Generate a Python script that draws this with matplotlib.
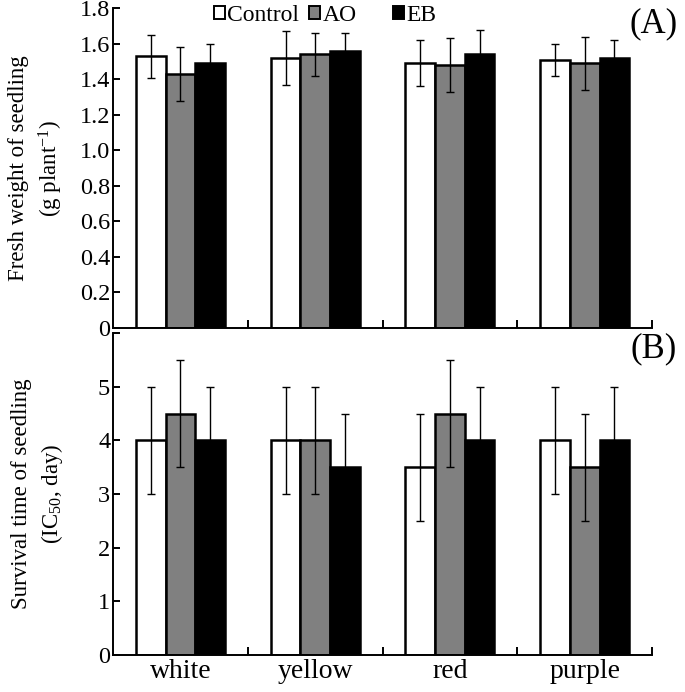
import matplotlib
matplotlib.use('Agg')
import matplotlib.pyplot as plt
import numpy as np
from matplotlib.patches import Patch

plt.rcParams['font.family'] = ['Liberation Serif', 'DejaVu Serif']
plt.rcParams['mathtext.fontset'] = 'custom'
plt.rcParams['mathtext.rm'] = 'Liberation Serif'
plt.rcParams['mathtext.it'] = 'Liberation Serif:italic'

categories = ['white', 'yellow', 'red', 'purple']
treatments = ['Control', 'AO', 'EB']
colors = ['white', '#808080', 'black']

# (A) fresh weight, g plant-1
weight = {
    'Control': [1.53, 1.52, 1.49, 1.51],
    'AO': [1.43, 1.54, 1.48, 1.49],
    'EB': [1.49, 1.56, 1.54, 1.52],
}
weight_err = {
    'Control': [0.12, 0.15, 0.13, 0.09],
    'AO': [0.15, 0.12, 0.15, 0.15],
    'EB': [0.11, 0.10, 0.14, 0.10],
}

# (B) survival time, IC50 day
survival = {
    'Control': [4.0, 4.0, 3.5, 4.0],
    'AO': [4.5, 4.0, 4.5, 3.5],
    'EB': [4.0, 3.5, 4.0, 4.0],
}
survival_err = {
    'Control': [1.0, 1.0, 1.0, 1.0],
    'AO': [1.0, 1.0, 1.0, 1.0],
    'EB': [1.0, 1.0, 1.0, 1.0],
}

fig = plt.figure(figsize=(6.85, 6.92), dpi=100)
ax1 = fig.add_axes([0.165, 0.526, 0.787, 0.462])
ax2 = fig.add_axes([0.165, 0.0535, 0.787, 0.465])

x = np.arange(len(categories))
width = 0.22


def draw_panel(ax, values, errors):
    for i, t in enumerate(treatments):
        ax.bar(x + (i - 1) * width, values[t], width, color=colors[i],
               edgecolor='black', linewidth=1.8, zorder=2)
        ax.errorbar(x + (i - 1) * width, values[t], yerr=errors[t], fmt='none',
                    ecolor='black', elinewidth=1.0, capsize=3, capthick=1.0, zorder=3)
    ax.set_xlim(-0.5, 3.5)
    ax.spines['top'].set_visible(False)
    ax.spines['right'].set_visible(False)
    ax.spines['left'].set_linewidth(1.4)
    ax.spines['bottom'].set_linewidth(1.4)
    ax.set_xticks([0.5, 1.5, 2.5, 3.5])
    ax.set_xticklabels([])
    ax.tick_params(axis='x', direction='in', length=6, width=1.4)
    ax.tick_params(axis='y', direction='in', length=5, width=1.4, labelsize=17.5, pad=2)
    ax.yaxis.set_label_coords(-0.09, 0.5)


draw_panel(ax1, weight, weight_err)
ax1.set_ylim(0, 1.8)
ax1.set_yticks(np.arange(0, 1.81, 0.2))
ax1.set_yticklabels(['0', '0.2', '0.4', '0.6', '0.8', '1.0', '1.2', '1.4', '1.6', '1.8'])
ax1.set_ylabel('Fresh weight of seedling\n(g plant$^{-1}$)', fontsize=16.5, linespacing=1.35)
ax1.text(1.003, 0.952, '(A)', transform=ax1.transAxes, fontsize=25, ha='center', va='center')

draw_panel(ax2, survival, survival_err)
ax2.set_ylim(0, 6)
ax2.set_yticks(np.arange(0, 7, 1))
ax2.set_yticklabels(['0', '1', '2', '3', '4', '5', ''])
ax2.set_ylabel('Survival time of seedling\n(IC$_{50}$, day)', fontsize=16.5, linespacing=1.35)
ax2.text(1.003, 0.95, '(B)', transform=ax2.transAxes, fontsize=25, ha='center', va='center')
for xi, name in zip(x, categories):
    ax2.text(xi, -0.072, name, ha='center', va='baseline', fontsize=20,
             transform=ax2.get_xaxis_transform())

handles = [Patch(facecolor=c, edgecolor='black', linewidth=1.4) for c in colors]
leg_kw = dict(frameon=False, fontsize=17, handlelength=0.45, handleheight=0.45,
              handletextpad=0.12, columnspacing=0.4, borderpad=0, borderaxespad=0)
leg1 = fig.legend(handles[:2], treatments[:2], loc='upper left', ncol=2,
                  bbox_to_anchor=(214 / 685, 1 - 5 / 692), **leg_kw)
leg2 = fig.legend(handles[2:], treatments[2:], loc='upper left', ncol=1,
                  bbox_to_anchor=(393 / 685, 1 - 5 / 692), **leg_kw)

fig.savefig('out.png', dpi=100)
